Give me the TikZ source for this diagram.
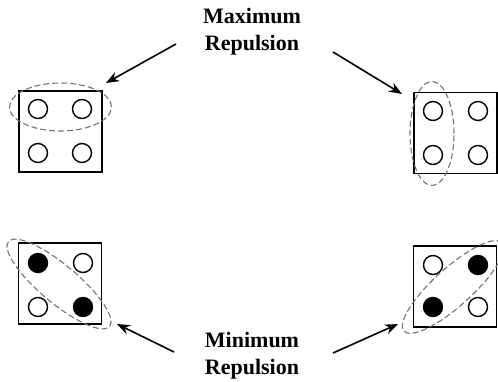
\documentclass[tikz,border=0pt]{standalone}
\usepackage{fontspec}
\setmainfont{Liberation Serif}
\usetikzlibrary{arrows.meta}
\begin{document}
\begin{tikzpicture}[x=1pt,y=-1pt,
  box/.style={draw=black,line width=1.8pt,minimum width=83pt,minimum height=81pt,inner sep=0pt},
  hole/.style={circle,draw=black,line width=1.4pt,minimum size=19pt,inner sep=0pt},
  dot/.style={hole,fill=black},
  ring/.style={draw=black!55,dash pattern=on 6pt off 3pt,line width=1.1pt},
  lbl/.style={font=\bfseries\fontsize{22}{27}\selectfont,align=center},
  arr/.style={-{Stealth[length=13pt,width=10pt]},line width=1.6pt}]
\useasboundingbox (0,0) rectangle (498,382);
% labels
\node[lbl] (max) at (252,32) {Maximum\\Repulsion};
\node[lbl] (min) at (252,356) {Minimum\\Repulsion};
% boxes
\node[box] (b1) at (60.5,131.5) {};
\node[box] (b2) at (455.5,133) {};
\node[box] (b3) at (60,283.5) {};
\node[box] (b4) at (455,286.5) {};
% top-left circles
\node[hole] (c11) at (38,109) {};
\node[hole] (c12) at (82,109) {};
\node[hole] (c13) at (38,153) {};
\node[hole] (c14) at (82,153) {};
% top-right circles
\node[hole] (c21) at (433,111) {};
\node[hole] (c22) at (478,111) {};
\node[hole] (c23) at (433,155) {};
\node[hole] (c24) at (478,155) {};
% bottom-left circles
\node[dot] (c31) at (38,263) {};
\node[hole] (c32) at (83,263) {};
\node[hole] (c33) at (38,307) {};
\node[dot] (c34) at (83,307) {};
% bottom-right circles
\node[hole] (c41) at (433,265) {};
\node[dot] (c42) at (478,265) {};
\node[dot] (c43) at (433,307) {};
\node[hole] (c44) at (478,307) {};
% dashed ellipses
\draw[ring] (60.5,107) ellipse [x radius=51pt, y radius=24pt];
\draw[ring] (432,133.5) ellipse [x radius=22pt, y radius=52pt];
\draw[ring,rotate around={-40:(59,284)}] (59,284) ellipse [x radius=66pt, y radius=19pt];
\draw[ring,rotate around={42:(453,287)}] (453,287) ellipse [x radius=66pt, y radius=19pt];
% arrow ends
\coordinate (a1s) at (176,44);
\coordinate (a1e) at (106,83);
\coordinate (a2s) at (333,52);
\coordinate (a2e) at (402,94);
\coordinate (a3s) at (174,352);
\coordinate (a3e) at (117,324);
\coordinate (a4s) at (333,353);
\coordinate (a4e) at (398,324);
\draw[arr] (a1s) -- (a1e);
\draw[arr] (a2s) -- (a2e);
\draw[arr] (a3s) -- (a3e);
\draw[arr] (a4s) -- (a4e);
\end{tikzpicture}
\end{document}
